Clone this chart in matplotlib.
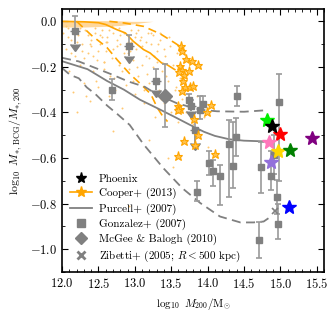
import numpy as np
import matplotlib
matplotlib.use('Agg')
import matplotlib.pyplot as plt
from matplotlib.lines import Line2D
from matplotlib.ticker import MultipleLocator

plt.rcParams['font.family'] = 'serif'
plt.rcParams['font.serif'] = ['cmr10', 'DejaVu Serif']
plt.rcParams['mathtext.fontset'] = 'cm'
plt.rcParams['axes.formatter.use_mathtext'] = True
plt.rcParams['axes.unicode_minus'] = True

GRAY = '#808080'
EGRAY = '#9a9a9a'
ORANGE = 'orange'

cloud_x = [12.02, 12.05, 12.08, 12.10, 12.12, 12.15, 12.18, 12.20, 12.22, 12.25, 12.28, 12.30, 12.32, 12.35,
           12.38, 12.40, 12.42, 12.45, 12.48, 12.50, 12.52, 12.55, 12.58, 12.60, 12.62, 12.65, 12.68, 12.70,
           12.72, 12.75, 12.78, 12.80, 12.82, 12.85, 12.88, 12.90, 12.92, 12.95, 12.97, 13.00, 13.02, 13.05,
           13.08, 13.10, 13.12, 13.15, 13.18, 13.20, 13.22, 13.25, 13.28, 13.30, 13.33, 13.35, 13.38, 13.40,
           13.42, 13.45, 13.48, 13.50, 13.52, 13.55, 13.58, 13.60, 13.62, 13.65, 13.68, 13.70, 13.75, 13.80,
           13.85, 13.90, 13.95, 14.00, 13.45, 13.52, 12.92, 13.20, 12.70, 12.05, 12.15, 12.25, 12.35, 12.45,
           12.55, 12.65, 12.75, 12.85, 12.95, 13.05, 13.15, 13.25, 13.35, 12.40, 12.50, 12.60, 12.70, 12.80,
           12.90, 13.00, 13.10, 13.20, 13.30, 13.40, 12.30, 12.58, 12.66, 12.88, 13.03, 13.17, 13.27, 13.43,
           12.12, 12.20, 12.33, 12.47, 12.73, 12.98, 13.13, 13.36, 13.57, 13.64, 13.72, 12.08, 12.18, 12.28,
           12.38, 12.52, 12.62, 12.78, 12.93, 13.07, 13.22, 13.32, 13.47, 12.43, 12.57, 12.68, 12.83, 13.01]
cloud_y = [-0.05, -0.12, -0.03, -0.22, -0.08, -0.31, -0.15, -0.40, -0.06, -0.19, -0.10, -0.27, -0.04, -0.14,
           -0.35, -0.08, -0.22, -0.05, -0.17, -0.29, -0.10, -0.04, -0.21, -0.13, -0.07, -0.33, -0.16, -0.05,
           -0.25, -0.11, -0.19, -0.06, -0.38, -0.14, -0.28, -0.09, -0.21, -0.04, -0.17, -0.32, -0.12, -0.24,
           -0.07, -0.19, -0.36, -0.15, -0.05, -0.27, -0.10, -0.20, -0.42, -0.13, -0.30, -0.08, -0.22, -0.36,
           -0.15, -0.26, -0.11, -0.40, -0.19, -0.30, -0.14, -0.44, -0.25, -0.34, -0.18, -0.40, -0.28, -0.45,
           -0.33, -0.50, -0.42, -0.55, -0.60, -0.64, -0.81, -0.52, -0.48, -0.02, -0.04, -0.03, -0.06, -0.03,
           -0.07, -0.04, -0.08, -0.05, -0.09, -0.04, -0.09, -0.06, -0.05, -0.11, -0.13, -0.09, -0.12, -0.10,
           -0.14, -0.07, -0.11, -0.16, -0.18, -0.12, -0.16, -0.18, -0.24, -0.12, -0.20, -0.23, -0.15, -0.24,
           -0.14, -0.09, -0.33, -0.26, -0.30, -0.26, -0.30, -0.34, -0.29, -0.22, -0.35, -0.07, -0.05, -0.13,
           -0.10, -0.06, -0.09, -0.03, -0.13, -0.08, -0.05, -0.10, -0.07, -0.15, -0.18, -0.02, -0.22, -0.05]

# dense band of particles near zero
band_x = [12.0, 12.3, 12.6, 12.8, 12.95, 13.1, 13.25]
band_lo = [-0.025, -0.025, -0.022, -0.018, -0.012, -0.006, 0.0]
band_hi = [0.003, 0.003, 0.003, 0.002, 0.0, 0.0, 0.0]

cooper_x = [12.0, 12.3, 12.5, 12.6, 12.75, 12.87, 12.98, 13.12, 13.21, 13.37, 13.44, 13.55]
cooper_y = [0.0, -0.002, -0.006, -0.014, -0.036, -0.051, -0.088, -0.124, -0.139, -0.183, -0.19, -0.212]
cooper_hi_x = [12.65, 12.85, 13.12, 13.28, 13.35, 13.55, 13.62]
cooper_hi_y = [0.0, -0.007, -0.022, -0.045, -0.055, -0.095, -0.11]
cooper_lo_x = [12.2, 12.3, 12.41, 12.54, 12.62, 12.76, 12.94, 13.09, 13.22, 13.31, 13.39, 13.45]
cooper_lo_y = [0.0, -0.03, -0.063, -0.095, -0.116, -0.17, -0.234, -0.278, -0.32, -0.38, -0.42, -0.44]

cooper_star_x = [13.63, 13.65, 13.70, 13.79, 13.87, 13.62, 13.65, 13.61, 13.67, 13.74, 13.66, 13.69, 13.76,
                 13.80, 13.65, 13.60, 13.62, 13.59, 14.04, 13.99, 13.81, 13.87, 13.83, 13.68, 14.10, 13.60]
cooper_star_y = [-0.11, -0.13, -0.165, -0.173, -0.19, -0.198, -0.212, -0.224, -0.234, -0.22, -0.264, -0.288,
                 -0.288, -0.282, -0.308, -0.373, -0.385, -0.388, -0.366, -0.40, -0.429, -0.498, -0.542,
                 -0.527, -0.581, -0.59]

purcell_x = [12.0, 12.35, 12.62, 12.85, 13.07, 13.3, 13.53, 13.76, 13.95, 14.1, 14.3, 14.5, 14.77]
purcell_y = [-0.175, -0.21, -0.262, -0.30, -0.344, -0.38, -0.417, -0.455, -0.485, -0.503, -0.518, -0.524, -0.527]
purcell_hi_x = [12.0, 12.23, 12.46, 12.69, 12.91, 13.14, 13.3, 13.58, 13.9, 14.13, 14.5, 14.82]
purcell_hi_y = [-0.16, -0.176, -0.205, -0.234, -0.264, -0.288, -0.32, -0.36, -0.388, -0.395, -0.397, -0.39]
purcell_lo_x = [12.0, 12.11, 12.23, 12.34, 12.46, 12.62, 12.77, 12.93, 13.12, 13.39, 13.65, 13.9, 14.17,
                14.45, 14.63, 14.77, 14.88]
purcell_lo_y = [-0.205, -0.235, -0.25, -0.29, -0.32, -0.37, -0.41, -0.455, -0.54, -0.644, -0.732, -0.798,
                -0.857, -0.883, -0.883, -0.879, -0.855]

# Gonzalez+ (2007)
gonz_x = [12.69, 13.74, 13.90, 13.94, 13.85, 14.02, 14.08, 14.17, 14.30, 14.35, 14.39, 14.40, 14.74, 14.71,
          14.98, 14.91, 14.87, 14.95, 14.97]
gonz_y = [-0.30, -0.345, -0.39, -0.365, -0.751, -0.622, -0.659, -0.678, -0.537, -0.637, -0.508, -0.33, -0.64,
          -0.962, -0.356, -0.585, -0.678, -0.772, -0.889]
gonz_lo = [-0.344, -0.37, -0.43, -0.40, -0.79, -0.673, -0.725, -0.805, -0.77, -0.73, -0.593, -0.373, -0.754,
           -1.04, -0.70, -0.67, -0.74, -0.845, -0.955]
gonz_hi = [-0.253, -0.32, -0.33, -0.33, -0.703, -0.571, -0.607, -0.63, -0.432, -0.44, -0.425, -0.283, -0.53,
           -0.883, -0.23, -0.50, -0.57, -0.696, -0.80]
# Gonzalez+ upper limits
gonz_ul_x = [12.18, 12.92, 13.29, 13.77, 13.82]
gonz_ul_y = [-0.044, -0.11, -0.26, -0.37, -0.475]
gonz_ul_hi = [0.025, -0.06, -0.21, -0.345, -0.43]
gonz_ul_arrow = [-0.10, -0.15, -0.30, -0.395, -0.535]

mcgee_x = [13.41]
mcgee_y = [-0.33]
mcgee_lo = [-0.466]
mcgee_hi = [-0.187]

zib_x = [14.93]
zib_y = [-0.835]

phoenix_x = [14.89]
phoenix_y = [-0.458]

clus_x = [14.81, 14.99, 14.84, 14.97, 15.13, 14.87, 15.12, 15.44]
clus_y = [-0.435, -0.493, -0.532, -0.571, -0.564, -0.617, -0.817, -0.513]
clus_c = ['#00ee00', 'red', '#ff77bb', 'gold', 'green', 'mediumpurple', 'blue', 'purple']

fig = plt.figure(figsize=(3.3, 3.15), dpi=100)
ax = fig.add_axes([0.188, 0.137, 0.794, 0.835])

ax.fill_between(band_x, band_lo, band_hi, color='#ffd79a', lw=0, zorder=1)
ax.scatter(cloud_x, cloud_y, s=2.0, color='#ffc870', lw=0, zorder=1)

dash = (5, 3)
ax.plot(cooper_x, cooper_y, color=ORANGE, lw=1.2, zorder=2)
ax.plot(cooper_hi_x, cooper_hi_y, color=ORANGE, lw=1.2, dashes=dash, zorder=2)
ax.plot(cooper_lo_x, cooper_lo_y, color=ORANGE, lw=1.2, dashes=dash, zorder=2)

ax.plot(purcell_x, purcell_y, color=GRAY, lw=1.3, zorder=2)
ax.plot(purcell_hi_x, purcell_hi_y, color=GRAY, lw=1.3, dashes=dash, zorder=2)
ax.plot(purcell_lo_x, purcell_lo_y, color=GRAY, lw=1.3, dashes=dash, zorder=2)

gx = np.array(gonz_x); gy = np.array(gonz_y)
yerr = [gy - np.array(gonz_lo), np.array(gonz_hi) - gy]
ax.errorbar(gx, gy, yerr=yerr, fmt='s', ms=4.5, color=GRAY, ecolor=EGRAY, elinewidth=1.2,
            capsize=2.5, capthick=1.2, zorder=3)

ux = np.array(gonz_ul_x); uy = np.array(gonz_ul_y)
ax.errorbar(ux, uy, yerr=[np.zeros_like(uy), np.array(gonz_ul_hi) - uy], fmt='s', ms=4.5, color=GRAY,
            ecolor=EGRAY, elinewidth=1.2, capsize=2.5, capthick=1.2, zorder=3)
ax.errorbar(ux, uy, yerr=uy - np.array(gonz_ul_arrow), uplims=True, fmt='none', color=GRAY, ecolor=GRAY,
            elinewidth=1.2, capsize=3.5, zorder=3)

my = np.array(mcgee_y)
ax.errorbar(mcgee_x, mcgee_y, yerr=[my - np.array(mcgee_lo), np.array(mcgee_hi) - my], fmt='D', ms=7,
            color=GRAY, ecolor=EGRAY, elinewidth=1.2, capsize=2.5, capthick=1.2, zorder=3)
ax.plot(zib_x, zib_y, 'x', color=GRAY, ms=4, mew=1.2, zorder=3)

ax.plot(cooper_star_x, cooper_star_y, '*', ms=6.5, mfc='#ffc24d', mec=ORANGE, mew=0.8, ls='none', zorder=4)

for x, y, c in zip(clus_x, clus_y, clus_c):
    ax.plot(x, y, '*', ms=10, color=c, mec=c, zorder=5)
ax.plot(phoenix_x, phoenix_y, '*', ms=10, color='black', zorder=6)

ax.set_xlim(12.0, 15.6)
ax.set_ylim(-1.1, 0.055)
ax.xaxis.set_major_locator(MultipleLocator(0.5))
ax.xaxis.set_minor_locator(MultipleLocator(0.1))
ax.yaxis.set_major_locator(MultipleLocator(0.2))
ax.yaxis.set_minor_locator(MultipleLocator(0.1))
ax.tick_params(which='both', direction='in', top=True, right=True, labelsize=9)
ax.tick_params(which='major', length=4, width=0.8)
ax.tick_params(which='minor', length=2, width=0.6)
for s in ax.spines.values():
    s.set_linewidth(1.2)

ax.set_xlabel(r'$\log_{10}\ M_{200}/\mathrm{M}_{\odot}$', fontsize=8)
ax.set_ylabel(r'$\log_{10}\ M_{\ast,\,\mathrm{BCG}}/M_{\ast,200}$', fontsize=8.5)

handles = [
    Line2D([], [], marker='*', color='black', ms=8, ls='none'),
    Line2D([], [], marker='*', color=ORANGE, ms=8, lw=1.2),
    Line2D([], [], color=GRAY, lw=1.3),
    Line2D([], [], marker='s', color=GRAY, ms=6, ls='none'),
    Line2D([], [], marker='D', color=GRAY, ms=6, ls='none'),
    Line2D([], [], marker='x', color=GRAY, ms=6, mew=2, ls='none'),
]
labels = ['Phoenix', 'Cooper+ (2013)', 'Purcell+ (2007)', 'Gonzalez+ (2007)', 'McGee & Balogh (2010)',
          r'Zibetti+ (2005; $R<500$ kpc)']
ax.legend(handles, labels, loc='lower left', frameon=False, fontsize=8, handlelength=2.0,
          labelspacing=0.35, borderaxespad=0.3, handletextpad=0.6)

fig.savefig('out.png', dpi=100)
